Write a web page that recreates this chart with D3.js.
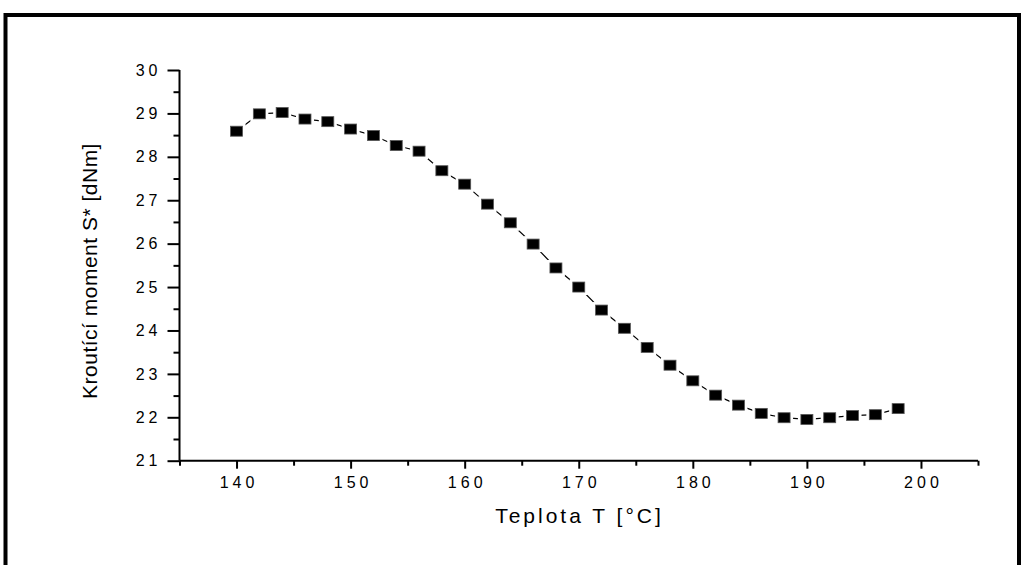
<!DOCTYPE html>
<html>
<head>
<meta charset="utf-8">
<script src="https://cdn.jsdelivr.net/npm/d3@7"></script>
<style>
  html, body { margin: 0; padding: 0; background: #fff; }
  svg { display: block; font-family: "Liberation Sans", Arial, sans-serif; }
</style>
</head>
<body>
<svg id="chart" width="1021" height="565"></svg>
<script>
// Temperature sweep (°C) and measured torque S* (dNm)
const temperatures = [140, 142, 144, 146, 148, 150, 152, 154, 156, 158,
                      160, 162, 164, 166, 168, 170, 172, 174, 176, 178,
                      180, 182, 184, 186, 188, 190, 192, 194, 196, 198];
const torque = [28.59, 28.99, 29.02, 28.87, 28.81, 28.64, 28.49, 28.26, 28.13, 27.68,
                27.37, 26.91, 26.48, 25.99, 25.44, 25.00, 24.47, 24.05, 23.61, 23.20,
                22.84, 22.51, 22.28, 22.09, 21.99, 21.95, 21.99, 22.04, 22.06, 22.20];

const xMajorTicks = [140, 150, 160, 170, 180, 190, 200];
const xMinorTicks = [135, 145, 155, 165, 175, 185, 195, 205];
const yMajorTicks = [21, 22, 23, 24, 25, 26, 27, 28, 29, 30];
const yMinorTicks = [21.5, 22.5, 23.5, 24.5, 25.5, 26.5, 27.5, 28.5, 29.5];

const xTitle = "Teplota T [°C]";
const yTitle = "Kroutící moment S* [dNm]";

const svg = d3.select("#chart");

// Page frame (bottom edge runs off the page)
svg.append("path")
  .attr("d", "M5.5,600 L5.5,15 L1019,15 L1019,600")
  .attr("fill", "none")
  .attr("stroke", "#000")
  .attr("stroke-width", 4);

const x = d3.scaleLinear().domain([135, 205]).range([179.5, 978]);
const y = d3.scaleLinear().domain([21, 30]).range([460.7, 70]);

const tickFont = 16, tickSpacing = 4;

// Y axis: major ticks with labels, minor ticks without
const yAxisG = svg.append("g").attr("transform", `translate(${x(135)},0)`);
yAxisG.call(d3.axisLeft(y).tickValues(yMajorTicks).tickSize(12).tickPadding(6).tickFormat(d3.format("d")));
const yMinorG = svg.append("g").attr("transform", `translate(${x(135)},0)`);
yMinorG.call(d3.axisLeft(y).tickValues(yMinorTicks).tickSize(6).tickFormat(""));

// X axis
const xAxisG = svg.append("g").attr("transform", `translate(0,${y(21)})`);
xAxisG.call(d3.axisBottom(x).tickValues(xMajorTicks).tickSize(8).tickPadding(8).tickFormat(d3.format("d")));
const xMinorG = svg.append("g").attr("transform", `translate(0,${y(21)})`);
xMinorG.call(d3.axisBottom(x).tickValues(xMinorTicks).tickSize(5).tickFormat(""));

[yAxisG, yMinorG, xAxisG, xMinorG].forEach(g => {
  g.select(".domain").attr("stroke", "#000").attr("stroke-width", 2);
  g.selectAll(".tick line").attr("stroke", "#000").attr("stroke-width", 2);
  g.selectAll(".tick text")
    .attr("fill", "#000")
    .style("font-size", tickFont + "px")
    .style("letter-spacing", tickSpacing + "px")
    .style("font-family", "'Liberation Sans', Arial, sans-serif");
});
// the domain paths are drawn plain (no end stubs)
yAxisG.select(".domain").attr("d", `M0,${y(21)}V${y(30)}`);
xAxisG.select(".domain").attr("d", `M${x(135)},0H${x(205)}`);
yMinorG.select(".domain").remove();
xMinorG.select(".domain").remove();
// center letter-spaced x labels
xAxisG.selectAll(".tick text").attr("dx", tickSpacing / 2);

// Axis titles
svg.append("text")
  .attr("x", 578 + 1.5)
  .attr("y", 523)
  .attr("text-anchor", "middle")
  .style("font-size", "21px")
  .style("letter-spacing", "3px")
  .attr("fill", "#000")
  .text(xTitle);

svg.append("text")
  .attr("transform", "translate(97,271) rotate(-90)")
  .attr("text-anchor", "middle")
  .style("font-size", "21px")
  .style("letter-spacing", "0.5px")
  .attr("fill", "#000")
  .text(yTitle);

// Data line and markers
const data = temperatures.map((t, i) => ({ t, v: torque[i] }));
const line = d3.line().x(d => x(d.t)).y(d => y(d.v));

svg.append("path")
  .datum(data)
  .attr("d", line)
  .attr("fill", "none")
  .attr("stroke", "#000")
  .attr("stroke-width", 1.2);

const mW = 12, mH = 10, gap = 3;
const marks = svg.append("g");
// white halo so the connecting line stops short of each marker
marks.selectAll("rect.halo")
  .data(data)
  .join("rect")
  .attr("class", "halo")
  .attr("x", d => x(d.t) - mW / 2 - gap)
  .attr("y", d => y(d.v) - mH / 2 - gap)
  .attr("width", mW + 2 * gap)
  .attr("height", mH + 2 * gap)
  .attr("fill", "#fff");
marks.selectAll("rect.mark")
  .data(data)
  .join("rect")
  .attr("class", "mark")
  .attr("x", d => x(d.t) - mW / 2)
  .attr("y", d => y(d.v) - mH / 2)
  .attr("width", mW)
  .attr("height", mH)
  .attr("fill", "#000")
  .attr("stroke", "#555")
  .attr("stroke-width", 0.8);
</script>
</body>
</html>
